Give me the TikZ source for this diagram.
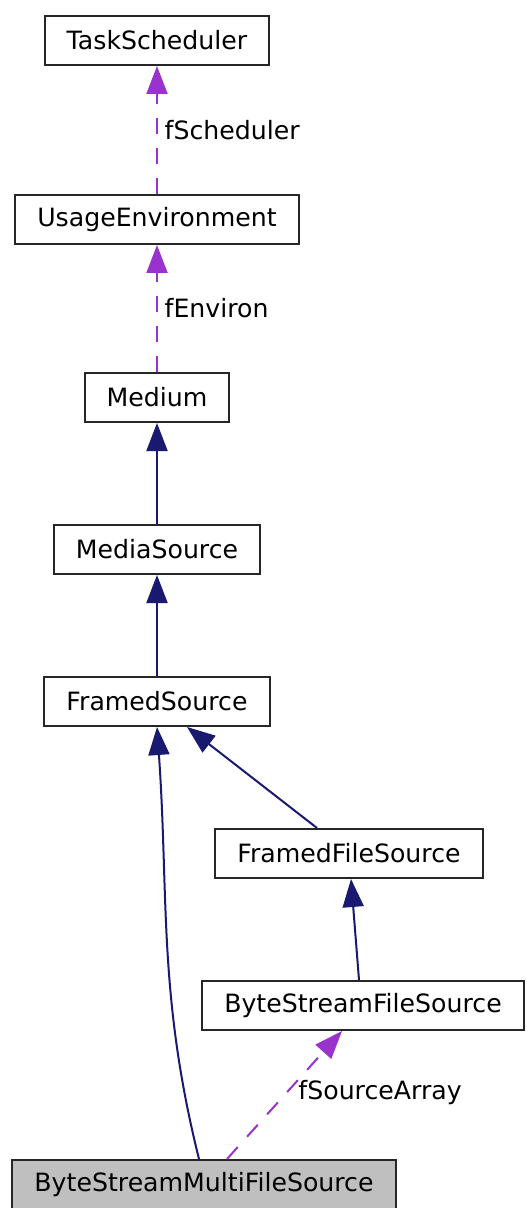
\documentclass[tikz,border=0pt]{standalone}
\usepackage{fontspec}
\setmainfont{DejaVu Sans}
\usetikzlibrary{arrows.meta,positioning}
\definecolor{inhblue}{RGB}{25,25,112}
\definecolor{usepurple}{RGB}{154,50,205}
\newcommand{\gfont}{\fontsize{12.6pt}{15pt}\selectfont}
\tikzset{
  cls/.style = {draw=black!85, line width=1pt, minimum height=24.5pt,
                inner xsep=11pt, font=\gfont},
  cur/.style = {cls, fill=black!25},
  inh/.style = {-{Triangle[length=14pt,width=10.5pt]}, draw=inhblue, line width=1pt},
  use/.style = {inh, draw=usepurple, dash pattern=on 8pt off 7pt},
  lbl/.style = {font=\gfont, right}
}

\begin{document}
\begin{tikzpicture}[node distance=50.5pt]
  \useasboundingbox (0,0) rectangle (263pt,-604pt);
  \clip (0,0) rectangle (263pt,-604pt);
  % class chain
  \node[cls] (sched) at (78.5pt,-20.25pt) {TaskScheduler};
  \node[cls, below=64pt of sched] (env) {UsageEnvironment};
  \node[cls, below=63.5pt of env] (medium) {Medium};
  \node[cls, below=of medium] (msrc) {MediaSource};
  \node[cls, below=of msrc] (framed) {FramedSource};
  \node[cls, below=of framed, xshift=96pt] (ffile) {FramedFileSource};
  \node[cls, below=of ffile, xshift=7pt] (bsfile) {ByteStreamFileSource};
  \node[cur, below=64pt of bsfile, xshift=-79.5pt] (bsmulti) {ByteStreamMultiFileSource};
  % members
  \draw[use] (env) -- node[lbl] {fScheduler} (sched);
  \draw[use] (medium) -- node[lbl] {fEnviron} (env);
  % inheritance
  \draw[inh] (msrc) -- (medium);
  \draw[inh] (framed) -- (msrc);
  \draw[inh] ([xshift=-16pt]ffile.north) -- ([xshift=15pt]framed.south);
  \draw[inh] ([xshift=-2pt]bsfile.north) -- ([xshift=1pt]ffile.south);
  \draw[inh] ([xshift=-2.5pt]bsmulti.north) to[out=104, in=-86] (framed.south);
  \draw[use] ([xshift=11.5pt]bsmulti.north) --
    node[lbl, pos=0.52, xshift=2pt] {fSourceArray} ([xshift=-10.5pt]bsfile.south);
\end{tikzpicture}
\end{document}
